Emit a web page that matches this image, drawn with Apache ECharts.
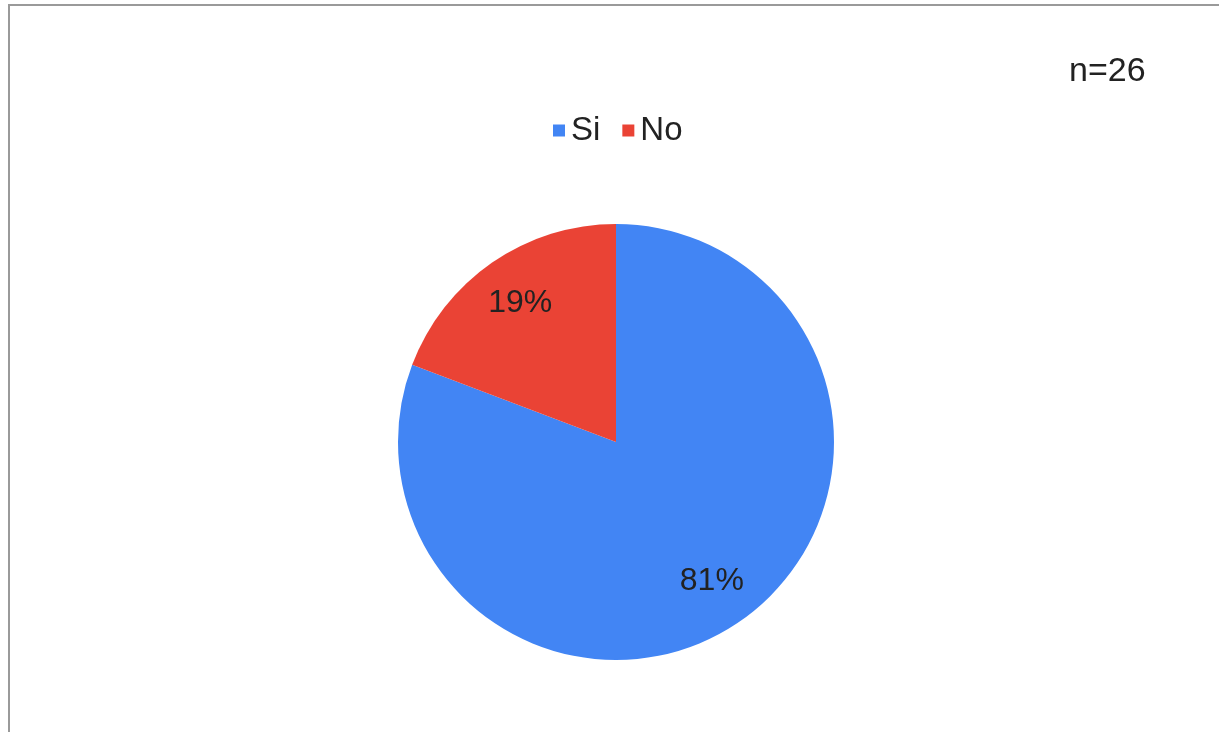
<!DOCTYPE html>
<html>
<head>
<meta charset="utf-8">
<style>
  html, body { margin: 0; padding: 0; background: #ffffff; }
  #chart { width: 1219px; height: 732px; }
</style>
<script src="https://cdn.jsdelivr.net/npm/echarts@6/dist/echarts.min.js"></script>
</head>
<body>
<div id="chart"></div>
<script>
// Survey answers (n = 26)
const categories = ['Si', 'No'];
const counts = [21, 5];
const colors = ['#4285F4', '#EA4335'];
const sampleLabel = 'n=26';

const FONT = '"Liberation Sans", Arial, sans-serif';
const TEXT = '#222222';

const pieData = categories.map((name, i) => ({
  name: name,
  value: counts[i],
  itemStyle: { color: colors[i] }
}));

const CENTER = [616, 442];
const R = 218;

const chart = echarts.init(document.getElementById('chart'), null, { renderer: 'canvas' });
chart.setOption({
  animation: false,
  backgroundColor: '#ffffff',
  title: {
    text: sampleLabel,
    left: 1064,
    top: 50,
    textStyle: { fontFamily: FONT, fontSize: 34, fontWeight: 'normal', color: TEXT }
  },
  legend: {
    data: categories,
    left: 548,
    top: 109,
    icon: 'rect',
    itemWidth: 12,
    itemHeight: 12,
    itemGap: 22,
    textStyle: { fontFamily: FONT, fontSize: 33, color: TEXT, padding: [0, 0, 0, 1] }
  },
  graphic: [{
    type: 'polyline',
    shape: { points: [[9, 732], [9, 5], [1219, 5]] },
    style: { stroke: '#9a9a9a', lineWidth: 2, fill: null },
    silent: true
  }],
  series: [
    {
      // the pie itself
      type: 'pie',
      center: CENTER,
      radius: [0, R],
      startAngle: 90,
      clockwise: true,
      silent: true,
      label: { show: false },
      labelLine: { show: false },
      itemStyle: { borderWidth: 0 },
      data: pieData
    },
    {
      // transparent ring carrying the percentage labels further out
      type: 'pie',
      center: CENTER,
      radius: [R * 0.52, R],
      startAngle: 90,
      clockwise: true,
      silent: true,
      percentPrecision: 0,
      itemStyle: { color: 'rgba(0,0,0,0)', borderWidth: 0 },
      label: {
        show: true,
        position: 'inside',
        formatter: '{d}%',
        fontFamily: FONT,
        fontSize: 32,
        color: TEXT
      },
      labelLine: { show: false },
      data: categories.map((name, i) => ({ name: name, value: counts[i] }))
    }
  ]
});
</script>
</body>
</html>
